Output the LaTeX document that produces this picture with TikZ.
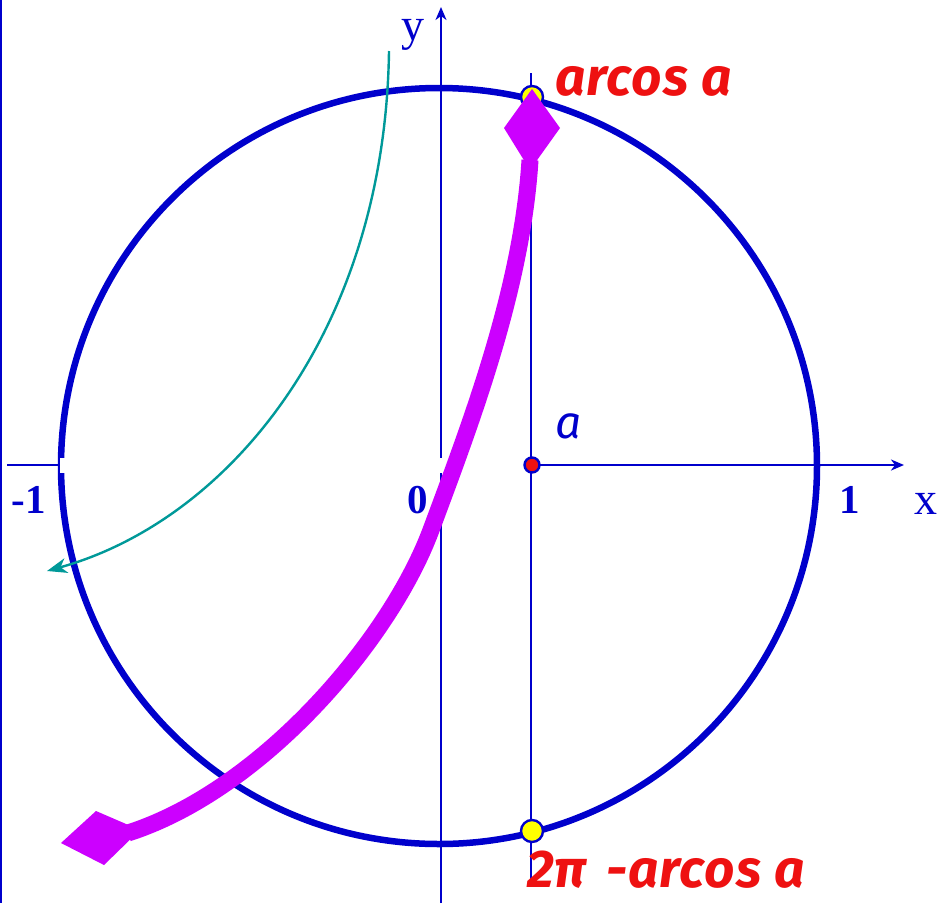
\documentclass[tikz,border=0pt]{standalone}
\usepackage{fontspec}
\setmainfont{Liberation Serif}
\newfontfamily\comicf{Fira Sans}
\newfontfamily\comicsp{Fira Sans}[LetterSpace=2]
\usetikzlibrary{arrows.meta}
\definecolor{dblue}{HTML}{0000CC}
\definecolor{lred}{HTML}{EE1111}
\definecolor{mag}{HTML}{CC00FF}
\definecolor{tealc}{HTML}{009999}
\definecolor{yel}{HTML}{FFFF00}
\tikzset{
  axisline/.style={dblue, line width=2.6},
  axtip/.style={-{Stealth[length=13pt,width=11pt,inset=4pt]}},
  numlab/.style={dblue, inner sep=0, anchor=base, font=\fontsize{41}{41}\selectfont\bfseries},
  varlab/.style={dblue, inner sep=0, anchor=base, font=\fontsize{46}{46}\selectfont},
  redlab/.style={lred, inner sep=0, text depth=0pt, anchor=base west, font=\comicsp\fontsize{53}{53}\selectfont\bfseries\itshape},
  dotstyle/.style={draw=dblue, line width=2.4, circle, inner sep=0},
}
\begin{document}
\begin{tikzpicture}[x=1pt,y=-1pt]
\useasboundingbox (0,0) rectangle (940,903);
\fill[white] (0,0) rectangle (940,903);
\draw[dblue, line width=2] (1,0) -- (1,903);
% unit circle
\coordinate (O) at (439,466);
\draw[dblue, line width=6.5] (O) circle[radius=378];
% axes
\coordinate (xl) at (7,465);
\coordinate (xm) at (60,465);
\coordinate (xs) at (531,465);
\coordinate (xr) at (904,465);
\coordinate (yb) at (441,903);
\coordinate (yt) at (441,7);
\draw[axisline] (xl) -- (xm);
\draw[axisline, axtip] (xs) -- (xr);
\draw[axisline, axtip] (yb) -- (yt);
% erased band
\draw[white, line width=15] (60,465) -- (522,465);
% vertical line x = a
\coordinate (vt) at (531,73);
\coordinate (vb) at (531,880);
\draw[axisline] (vt) -- (vb);
% teal arrow
\coordinate (ts) at (389,51);
\coordinate (te) at (47,571);
\draw[tealc, line width=2.4, -{Stealth[length=20pt,width=15pt,inset=6pt]}]
  (ts) .. controls (385,330) and (230,520) .. (te);
% dots
\node[dotstyle, fill=yel, minimum size=22] (P1) at (532,97) {};
\node[dotstyle, fill=yel, minimum size=22] (P2) at (532,831) {};
\node[dotstyle, fill=lred, minimum size=15] (A) at (532,465) {};
% magenta curve
\coordinate (ms) at (128,833);
\coordinate (me) at (530,160);
\draw[mag, line width=17] (ms) .. controls (262,790) and (390,640) .. (431,530)
  .. controls (470,425) and (522,290) .. (me);
\fill[mag] (532,89) -- (504,128) -- (530,170) -- (560,128) -- cycle;
\fill[mag] (61,843) -- (96,811) -- (140,830) -- (104,865) -- cycle;
% labels
\node[numlab] (m1) at (29,513) {-1};
\node[numlab] (n0) at (418,513) {0};
\node[numlab] (n1) at (850,513) {1};
\node[varlab] (lx) at (926,514) {x};
\node[varlab] (ly) at (413,40) {y};
\node[dblue, inner sep=0, anchor=base west, font=\comicf\fontsize{46}{46}\selectfont\itshape] (la) at (555,438) {a};
\node[redlab] (l1) at (555,95) {arcos a};
\node[redlab] (l2) at (527,887) {2π\hspace{20pt}-arcos a};
\end{tikzpicture}
\end{document}
